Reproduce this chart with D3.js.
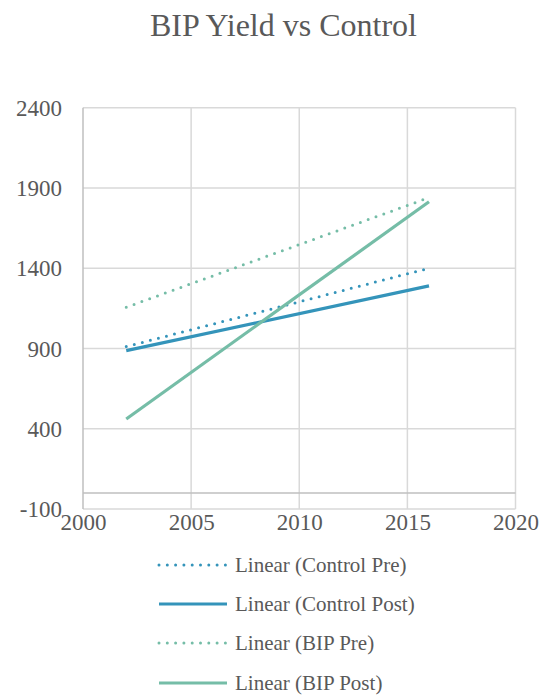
<!DOCTYPE html>
<html>
<head>
<meta charset="utf-8">
<script src="https://cdn.jsdelivr.net/npm/d3@7"></script>
<style>
  html, body { margin: 0; padding: 0; background: #fff; }
  svg text { font-family: "Liberation Serif", "Times New Roman", serif; fill: #595959; }
</style>
</head>
<body>
<svg id="chart" width="545" height="695"></svg>
<script>
// Linear trendlines (start year, end year) for each series
const trendYears = [2002, 2016];
const controlPre = [912, 1400];
const controlPost = [887, 1290];
const bipPre = [1157, 1840];
const bipPost = [461, 1814];

const seriesNames = ["Linear (Control Pre)", "Linear (Control Post)", "Linear (BIP Pre)", "Linear (BIP Post)"];
const seriesValues = [controlPre, controlPost, bipPre, bipPost];
const seriesColors = ["#3494BA", "#3494BA", "#75BDA7", "#75BDA7"];
const seriesDotted = [true, false, true, false];

const xTicks = [2000, 2005, 2010, 2015, 2020];
const yTicks = [-100, 400, 900, 1400, 1900, 2400];

const svg = d3.select("#chart");
const plot = { left: 83, right: 515.5, top: 107.7, bottom: 509 };

const x = d3.scaleLinear().domain([2000, 2020]).range([plot.left, plot.right]);
const y = d3.scaleLinear().domain([-100, 2400]).range([plot.bottom, plot.top]);
const fmt = d => String(d);

// Title
svg.append("text")
  .attr("x", 283.5).attr("y", 36)
  .attr("text-anchor", "middle")
  .style("font-size", "32px")
  .text("BIP Yield vs Control");

// Gridlines
const grid = svg.append("g");
grid.selectAll("line.h").data(yTicks).join("line")
  .attr("x1", plot.left).attr("x2", plot.right)
  .attr("y1", d => y(d)).attr("y2", d => y(d))
  .attr("stroke", "#d9d9d9").attr("stroke-width", 1.5);
grid.selectAll("line.v").data(xTicks.slice(1)).join("line")
  .attr("y1", plot.top).attr("y2", plot.bottom)
  .attr("x1", d => x(d)).attr("x2", d => x(d))
  .attr("stroke", "#d9d9d9").attr("stroke-width", 1.5);

// Axis lines: vertical at left edge, horizontal at value 0
svg.append("line")
  .attr("x1", x(2000)).attr("x2", x(2000))
  .attr("y1", plot.top).attr("y2", plot.bottom)
  .attr("stroke", "#bfbfbf").attr("stroke-width", 1.5);
svg.append("line")
  .attr("x1", plot.left).attr("x2", plot.right)
  .attr("y1", y(0)).attr("y2", y(0))
  .attr("stroke", "#bfbfbf").attr("stroke-width", 1.5);

// Y tick labels
const yAxis = d3.axisLeft(y).tickValues(yTicks).tickSize(0).tickPadding(0).tickFormat(fmt);
const gy = svg.append("g").attr("transform", `translate(62,0)`).call(yAxis)
  .attr("font-family", null).attr("font-size", null);
gy.select(".domain").remove();
gy.selectAll("text")
  .attr("dy", "0.33em")
  .style("font-size", "23px")
  .attr("fill", "#595959");

// X tick labels
const xAxis = d3.axisBottom(x).tickValues(xTicks).tickSize(0).tickPadding(0).tickFormat(fmt);
const gx = svg.append("g").attr("transform", `translate(0,530)`).call(xAxis)
  .attr("font-family", null).attr("font-size", null);
gx.select(".domain").remove();
gx.selectAll("text")
  .attr("y", 0)
  .attr("dy", "0")
  .style("font-size", "23px")
  .attr("fill", "#595959");

// Trendlines
const line = d3.line().x(d => x(d[0])).y(d => y(d[1]));
seriesValues.forEach((vals, i) => {
  const pts = trendYears.map((yr, j) => [yr, vals[j]]);
  svg.append("path")
    .datum(pts)
    .attr("d", line)
    .attr("fill", "none")
    .attr("stroke", seriesColors[i])
    .attr("stroke-width", seriesDotted[i] ? 3 : 3.2)
    .attr("stroke-linecap", seriesDotted[i] ? "round" : "butt")
    .attr("stroke-dasharray", seriesDotted[i] ? "0 8.3" : null);
});

// Legend
const legend = svg.append("g");
const rowY = [565, 604, 643, 683];
seriesNames.forEach((name, i) => {
  const g = legend.append("g").attr("transform", `translate(0,${rowY[i]})`);
  g.append("line")
    .attr("x1", 159).attr("x2", seriesDotted[i] ? 227.5 : 227)
    .attr("y1", 0).attr("y2", 0)
    .attr("stroke", seriesColors[i])
    .attr("stroke-width", seriesDotted[i] ? 3 : 3.2)
    .attr("stroke-linecap", seriesDotted[i] ? "round" : "butt")
    .attr("stroke-dasharray", seriesDotted[i] ? "0 8.3" : null);
  g.append("text")
    .attr("x", 235).attr("y", 0).attr("dy", "0.34em")
    .style("font-size", "21px")
    .text(name);
});
</script>
</body>
</html>
